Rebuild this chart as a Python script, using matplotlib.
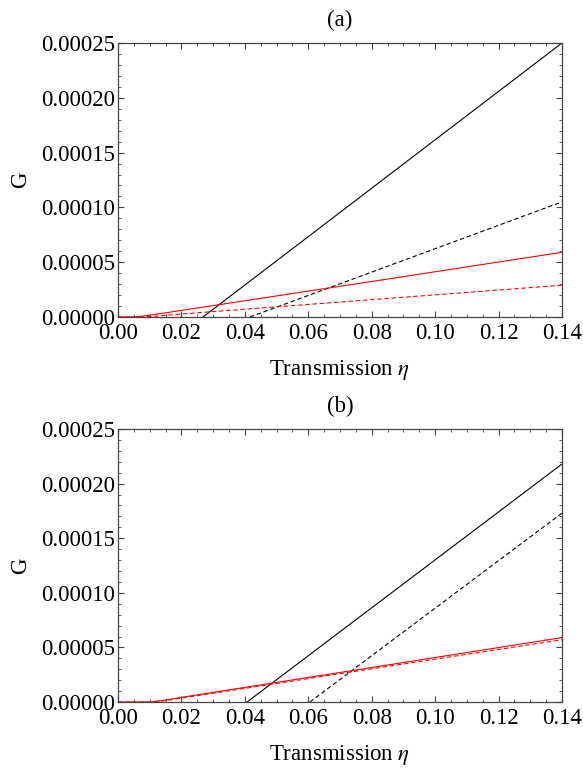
import numpy as np
import matplotlib
matplotlib.use("Agg")
import matplotlib.pyplot as plt
from matplotlib.ticker import MultipleLocator, FormatStrFormatter

plt.rcParams['font.family'] = ['Liberation Serif', 'DejaVu Serif']
plt.rcParams['mathtext.fontset'] = 'stix'

# panel (a)
a_black_solid_x = [0.0268, 0.14]
a_black_solid_y = [0.0, 0.000250]
a_black_dash_x = [0.0416, 0.14]
a_black_dash_y = [0.0, 0.000105]
a_red_solid_x = [0.0, 0.005, 0.01, 0.02, 0.04, 0.08, 0.14]
a_red_solid_y = [0.0, 0.0, 0.0000016, 0.0000060, 0.0000148, 0.0000324, 0.0000590]
a_red_dash_x = [0.0, 0.007, 0.012, 0.02, 0.04, 0.08, 0.14]
a_red_dash_y = [0.0, 0.0, 0.0000008, 0.0000027, 0.0000071, 0.0000158, 0.0000290]

# panel (b)
b_black_solid_x = [0.0407, 0.14]
b_black_solid_y = [0.0, 0.000218]
b_black_dash_x = [0.0605, 0.14]
b_black_dash_y = [0.0, 0.000173]
b_red_solid_x = [0.0, 0.010, 0.015, 0.02, 0.04, 0.08, 0.14]
b_red_solid_y = [0.0, 0.0, 0.0000018, 0.0000043, 0.0000134, 0.0000316, 0.0000590]
b_red_dash_x = [0.0, 0.011, 0.016, 0.02, 0.04, 0.08, 0.14]
b_red_dash_y = [0.0, 0.0, 0.0000017, 0.0000036, 0.0000125, 0.0000304, 0.0000570]

FS = 16.5
frame_col = '#444444'

fig = plt.figure(figsize=(5.83, 7.69), dpi=100)


def setup(ax, label):
    ax.set_xlim(0, 0.14)
    ax.set_ylim(0, 0.00025)
    ax.xaxis.set_major_locator(MultipleLocator(0.02))
    ax.xaxis.set_minor_locator(MultipleLocator(0.005))
    ax.yaxis.set_major_locator(MultipleLocator(0.00005))
    ax.yaxis.set_minor_locator(MultipleLocator(0.00001))
    ax.xaxis.set_major_formatter(FormatStrFormatter('%.2f'))
    ax.yaxis.set_major_formatter(FormatStrFormatter('%.5f'))
    ax.tick_params(which='both', direction='in', top=True, right=True,
                   color=frame_col, labelsize=FS)
    ax.tick_params(axis='x', pad=4.5)
    ax.tick_params(axis='y', pad=2)
    ax.tick_params(which='major', length=4.5, width=0.8)
    ax.tick_params(which='minor', length=2.5, width=0.6)
    for s in ax.spines.values():
        s.set_color(frame_col)
        s.set_linewidth(0.9)
    ax.set_xlabel(r'Transmission $\eta$', fontsize=FS, labelpad=10)
    ax.set_ylabel('G', fontsize=FS, labelpad=7)
    ax.set_title(label, fontsize=FS, pad=12)


ax1 = fig.add_axes([0.2024, 0.5878, 0.7616, 0.3563])
setup(ax1, '(a)')
ax1.plot(a_black_solid_x, a_black_solid_y, color='black', lw=0.8)
ax1.plot(a_black_dash_x, a_black_dash_y, color='black', lw=0.8, dashes=(4, 2.5))
ax1.plot(a_red_solid_x, a_red_solid_y, color='red', lw=0.8)
ax1.plot(a_red_dash_x, a_red_dash_y, color='red', lw=0.8, dashes=(4, 2.5))

ax2 = fig.add_axes([0.2024, 0.0871, 0.7616, 0.3550])
setup(ax2, '(b)')
ax2.plot(b_black_solid_x, b_black_solid_y, color='black', lw=0.8)
ax2.plot(b_black_dash_x, b_black_dash_y, color='black', lw=0.8, dashes=(4, 2.5))
ax2.plot(b_red_solid_x, b_red_solid_y, color='red', lw=0.8)
ax2.plot(b_red_dash_x, b_red_dash_y, color='red', lw=0.8, dashes=(4, 2.5))

fig.savefig('out.png', dpi=100)
